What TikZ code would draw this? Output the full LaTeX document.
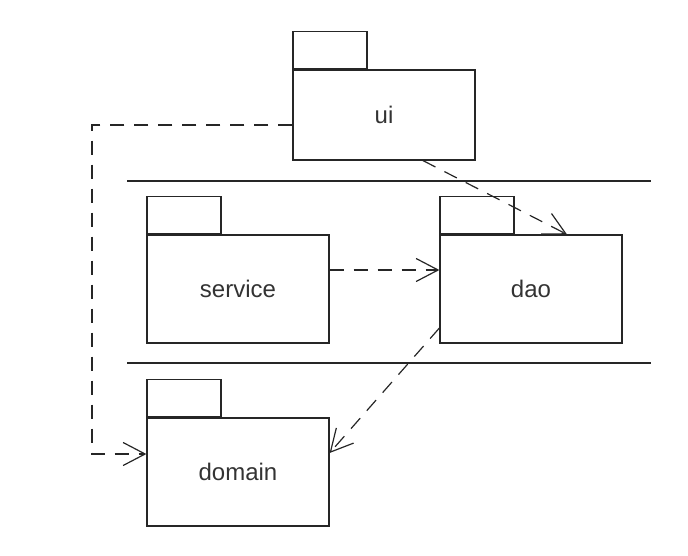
\documentclass[tikz,border=0pt]{standalone}
\usepackage{fontspec}
\setmainfont{Liberation Sans}
\usetikzlibrary{arrows.meta}

\tikzset{
  pkg/.style={draw=black!85, line width=1.2pt, minimum width=182pt, minimum height=108pt,
    inner sep=0pt, font=\fontsize{24}{28}\selectfont, text=black!80},
  pkgtab/.style={draw=black!85, line width=1.2pt, minimum width=74pt, minimum height=37pt,
    inner sep=0pt, anchor=south west},
  dep/.style={draw=black!85, line width=1.2pt, dash pattern=on 14pt off 10pt,
    -{Straight Barb[length=22pt,width=23pt,line width=1.2pt]}},
  sep/.style={draw=black!85, line width=1.2pt}
}

\begin{document}
\begin{tikzpicture}[x=1pt,y=-1pt]
				\useasboundingbox (0,0) rectangle (688,555);
				
				% packages
				\node[pkg, minimum height=90pt] (ui) at (384,115) {ui};
				\node[pkgtab] (uitab) at (ui.north west) {};
				\node[pkg] (service) at (238,289) {service};
				\node[pkgtab] (servicetab) at (service.north west) {};
				\node[pkg] (dao) at (531,289) {dao};
				\node[pkgtab] (daotab) at (dao.north west) {};
				\node[pkg] (domain) at (238,472) {domain};
				\node[pkgtab] (domaintab) at (domain.north west) {};
				
				% layer lines
				\draw[sep] (127,181) -- (651,181);
				\draw[sep] (127,363) -- (651,363);
				
				% dependencies
				\coordinate (corner) at (92,454);
				\draw[dep] ([yshift=-10pt]ui.west) -| (corner) -- ([yshift=18pt]domain.west);
				\draw[dep] ([xshift=39pt]ui.south) -- ([xshift=36pt]dao.north);
				\draw[dep] ([yshift=19pt]service.east) -- ([yshift=19pt]dao.west);
				\draw[dep] ([yshift=-39pt]dao.west) -- ([yshift=19pt]domain.east);
			\end{tikzpicture}
\end{document}
